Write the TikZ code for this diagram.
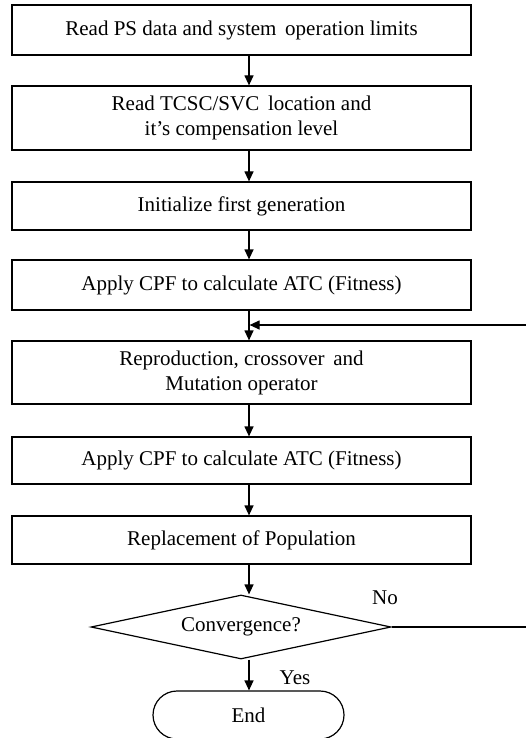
\documentclass[tikz,border=0pt]{standalone}
\usepackage{fontspec}
\setmainfont{Liberation Serif}
\usetikzlibrary{arrows.meta,shapes.geometric,shapes.misc}

\begin{document}
\begin{tikzpicture}[x=1pt,y=-1pt,font=\fontsize{21}{25}\selectfont,
  stepbox/.style={rectangle,draw,line width=1.2pt,fill=white,minimum width=459pt,inner sep=0pt,align=center},
  decision/.style={diamond,draw,line width=1.2pt,fill=white,minimum width=300pt,minimum height=64pt,inner sep=1pt,aspect=4.7},
  terminal/.style={rounded rectangle,draw,line width=1.2pt,fill=white,minimum width=191pt,minimum height=48pt,inner sep=0pt},
  flow/.style={line width=1.2pt,-{Triangle[length=10pt,width=9pt]}},
  plain/.style={line width=1.2pt}]
\useasboundingbox (0,0) rectangle (526,738);
\coordinate (spine) at (249,0);
\coordinate (loopin) at (526,325);
\node[stepbox,minimum height=50pt] (readps) at (241.5,30) {Read PS data and system\, operation limits};
\node[stepbox,minimum height=64pt] (readloc) at (241.5,118) {Read TCSC/SVC\, location and\\it's compensation level};
\node[stepbox,minimum height=48pt] (init) at (241.5,206) {Initialize first generation};
\node[stepbox,minimum height=50pt] (cpfa) at (241.5,285) {Apply CPF to calculate ATC (Fitness)};
\node[stepbox,minimum height=63pt] (repro) at (241.5,372.5) {Reproduction, crossover\, and\\Mutation operator};
\node[stepbox,minimum height=47pt] (cpfb) at (241.5,460.5) {Apply CPF to calculate ATC (Fitness)};
\node[stepbox,minimum height=48pt] (replace) at (241.5,540) {Replacement of Population};
\node[decision] (conv) at (241,627) {Convergence?};
\node[terminal] (finish) at (248.5,715) {End};
\node (yes) at (295,678) {Yes};
\node (no) at (385,598) {No};
\draw[flow] (readps.south -| spine) -- (readloc.north -| spine);
\draw[flow] (readloc.south -| spine) -- (init.north -| spine);
\draw[flow] (init.south -| spine) -- (cpfa.north -| spine);
\draw[flow] (cpfa.south -| spine) -- (repro.north -| spine);
\draw[flow] (loopin) -- ([xshift=0.6pt]loopin -| spine);
\draw[flow] (repro.south -| spine) -- (cpfb.north -| spine);
\draw[flow] (cpfb.south -| spine) -- (replace.north -| spine);
\draw[flow] (replace.south -| spine) -- (conv.north -| spine);
\draw[flow] (conv.south -| spine) -- (finish.north -| spine);
\draw[plain] (conv.east) -- (conv.east -| loopin);
\end{tikzpicture}
\end{document}
